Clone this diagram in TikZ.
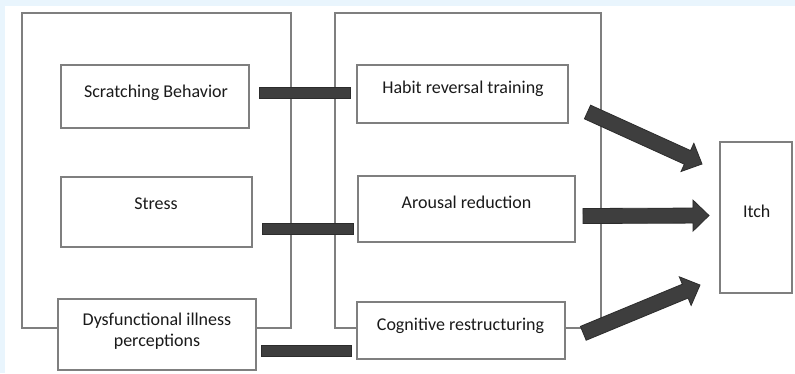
\documentclass[tikz,border=0pt]{standalone}
\usepackage{fontspec}
\setmainfont{Carlito}
\usetikzlibrary{calc}
\definecolor{bgblue}{HTML}{E9F5FD}
\definecolor{boxline}{HTML}{7F7F7F}
\definecolor{barfill}{HTML}{3E3E3E}
\definecolor{barline}{HTML}{2C2C2C}
\definecolor{txt}{HTML}{1A1A1A}
\newcommand\blockarr[2]{%
  \coordinate (hb) at ($(#2)!16pt!(#1)$);
  \filldraw[fill=barfill, draw=barline, line width=0.8pt, line join=miter]
    ($(#1)!7.5pt!90:(#2)$) -- ($(hb)!7.5pt!90:(#2)$) -- ($(hb)!15.5pt!90:(#2)$) --
    (#2) -- ($(hb)!15.5pt!-90:(#2)$) -- ($(hb)!7.5pt!-90:(#2)$) --
    ($(#1)!7.5pt!-90:(#2)$) -- cycle;}
\begin{document}
\begin{tikzpicture}[x=1pt, y=-1pt,
  box/.style={draw=boxline, line width=1.5pt, fill=white, rectangle, inner sep=0pt},
  frame/.style={draw=boxline, line width=1.5pt},
  lbl/.style={anchor=base, inner sep=0pt, text=txt, font=\fontsize{18}{21.7}\selectfont, align=center},
  bar/.style={fill=barfill, draw=barline, line width=0.8pt}]
  % background
  \fill[bgblue] (0,0) rectangle (795,373);
  \fill[white] (5,6) rectangle (795,373);
  \useasboundingbox (0,0) rectangle (795,373);
  % frames
  \draw[frame] (22,13) rectangle (291,328);
  \draw[frame] (335,13) rectangle (601,328);
  % boxes
  \node[box, minimum width=188pt, minimum height=63pt] (sb) at (155,96.5) {};
  \node[box, minimum width=191pt, minimum height=70pt] (st) at (156.5,212) {};
  \node[box, minimum width=198pt, minimum height=71pt] (di) at (157,334.5) {};
  \node[box, minimum width=211pt, minimum height=58pt] (hr) at (462.5,94) {};
  \node[box, minimum width=217pt, minimum height=66pt] (ar) at (466.5,209) {};
  \node[box, minimum width=208pt, minimum height=57pt] (cr) at (461,330.5) {};
  \node[box, minimum width=72pt, minimum height=151pt] (itch) at (756,217.5) {};
  % labels
  \node[lbl] (sbt) at (156,97.7) {Scratching Behavior};
  \node[lbl] (stt) at (156,209.3) {Stress};
  \node[lbl] (dit) at (157,346.7) {Dysfunctional illness\\perceptions};
  \node[lbl] (hrt) at (463,93.3) {Habit reversal training};
  \node[lbl] (art) at (466.5,208.3) {Arousal reduction};
  \node[lbl] (crt) at (460.5,330) {Cognitive restructuring};
  \node[lbl] (itt) at (756.7,217.7) {Itch};
  % bars
  \coordinate (b1s) at (259,92.5); \coordinate (b1e) at (350,92.5);
  \coordinate (b2s) at (262,228.5); \coordinate (b2e) at (353,228.5);
  \coordinate (b3s) at (261,351); \coordinate (b3e) at (351,351);
  \draw[bar] ($(b1s)+(0,-5.5)$) rectangle ($(b1e)+(0,5.5)$);
  \draw[bar] ($(b2s)+(0,-5.5)$) rectangle ($(b2e)+(0,5.5)$);
  \draw[bar] ($(b3s)+(0,-5.5)$) rectangle ($(b3e)+(0,5.5)$);
  % arrows
  \coordinate (a1s) at (587.5,112); \coordinate (a1e) at (702,164);
  \coordinate (a2s) at (583,216);   \coordinate (a2e) at (709,215.5);
  \coordinate (a3s) at (583.3,333.3); \coordinate (a3e) at (700,285);
  \blockarr{a1s}{a1e}
  \blockarr{a2s}{a2e}
  \blockarr{a3s}{a3e}
\end{tikzpicture}
\end{document}
